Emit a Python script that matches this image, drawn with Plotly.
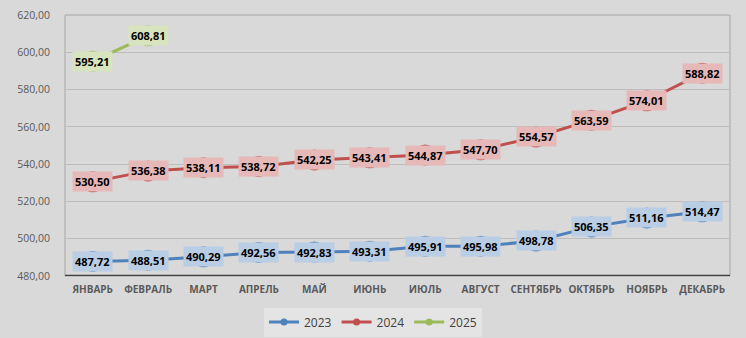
import plotly.graph_objects as go

months = ["ЯНВАРЬ", "ФЕВРАЛЬ", "МАРТ", "АПРЕЛЬ", "МАЙ", "ИЮНЬ", "ИЮЛЬ",
          "АВГУСТ", "СЕНТЯБРЬ", "ОКТЯБРЬ", "НОЯБРЬ", "ДЕКАБРЬ"]
v2023 = [487.72, 488.51, 490.29, 492.56, 492.83, 493.31, 495.91, 495.98,
         498.78, 506.35, 511.16, 514.47]
v2024 = [530.50, 536.38, 538.11, 538.72, 542.25, 543.41, 544.87, 547.70,
         554.57, 563.59, 574.01, 588.82]
v2025 = [595.21, 608.81]

series = [
    ("2023", v2023, "#4F81BD", "#B9CDE5"),
    ("2024", v2024, "#C0504D", "#E6B9B8"),
    ("2025", v2025, "#9BBB59", "#D7E4BD"),
]

fig = go.Figure()
annotations = []
for name, vals, col, bg in series:
    xs = months[:len(vals)]
    fig.add_trace(go.Scatter(
        x=xs, y=vals, name=name, mode="lines+markers", showlegend=False,
        line=dict(color=col, width=3),
        marker=dict(color=col, size=21, symbol="circle"),
    ))
    fig.add_trace(go.Scatter(
        x=[None], y=[None], name=name, mode="lines+markers",
        line=dict(color=col, width=3),
        marker=dict(color=col, size=7, symbol="circle"),
    ))
    for x, y in zip(xs, vals):
        annotations.append(dict(
            x=x, y=y, xref="x", yref="y",
            text=f"{y:.2f}".replace(".", ","),
            showarrow=False, bgcolor=bg, borderpad=2,
            font=dict(family="Open Sans", size=11, color="#000000", weight="bold"),
            xanchor="center", yanchor="middle",
        ))

fig.update_layout(
    width=746, height=338,
    margin=dict(l=65, r=16, t=15, b=62, autoexpand=False),
    paper_bgcolor="#D9D9D9", plot_bgcolor="#D9D9D9",
    separators=", ",
    annotations=annotations,
    showlegend=True,
    legend=dict(
        orientation="h", x=0.5, xanchor="center", xref="container",
        y=0.09, yanchor="top", yref="container",
        bgcolor="#E4E4E4", font=dict(family="Open Sans", size=12, color="#404040"),
        itemwidth=30, tracegroupgap=0,
    ),
    shapes=[dict(type="rect", xref="paper", yref="paper", x0=0, y0=0, x1=1, y1=1,
                 line=dict(color="#A6A6A6", width=1), layer="below")],
)
fig.update_xaxes(
    type="category", categoryorder="array", categoryarray=months,
    range=[-0.5, 11.5], showgrid=False, showline=False, zeroline=False,
    ticks="", tickangle=0, automargin=False, ticklabelstandoff=6,
    tickfont=dict(family="Open Sans", size=10, color="#595959", weight="bold"),
)
fig.update_yaxes(
    range=[480, 620], dtick=20, tickformat=".2f", automargin=False,
    showgrid=True, gridcolor="#BDBDBD", gridwidth=1, zeroline=False,
    showline=False, ticks="", ticklabelstandoff=14,
    tickfont=dict(family="Open Sans", size=10.5, color="#595959"),
)
fig.add_shape(type="line", xref="paper", yref="y", x0=0, x1=1, y0=480, y1=480,
              line=dict(color="#404040", width=2.5))
fig.write_html("out.html")
